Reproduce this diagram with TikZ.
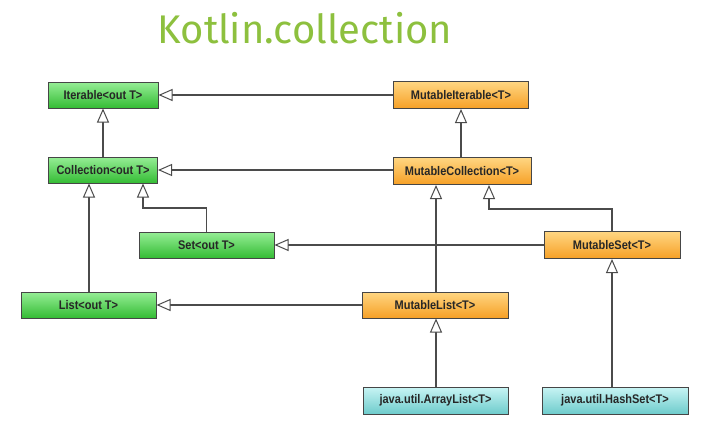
\documentclass[tikz,border=0pt]{standalone}
\usepackage{fontspec}
\usetikzlibrary{arrows.meta,shadings}
\newfontfamily\boxfont[FakeStretch=0.88]{Liberation Sans}
\newfontfamily\titlefont{Fira Sans}
\definecolor{titlegreen}{RGB}{141,192,62}
\definecolor{gtop}{RGB}{150,238,150}
\definecolor{gbot}{RGB}{52,188,52}
\definecolor{otop}{RGB}{255,214,130}
\definecolor{obot}{RGB}{246,160,38}
\definecolor{ctop}{RGB}{200,244,244}
\definecolor{cbot}{RGB}{110,204,204}
\definecolor{edgec}{RGB}{70,70,70}
\definecolor{linec}{RGB}{75,75,75}
\tikzset{
  cls/.style={draw=edgec, line width=1pt, minimum height=26pt, inner sep=0pt,
    font=\boxfont\bfseries\fontsize{12.5}{14}\selectfont, text=black!85},
  gbox/.style={cls, top color=gtop, bottom color=gbot},
  obox/.style={cls, top color=otop, bottom color=obot},
  cbox/.style={cls, top color=ctop, bottom color=cbot},
  inh/.style={draw=linec, line width=1.5pt,
    -{Triangle[open, length=14pt, width=12pt, fill=white, line width=1pt]}},
}
\begin{document}
\begin{tikzpicture}[x=1pt, y=-1pt]
\useasboundingbox (0,0) rectangle (703,428);
\node[text=titlegreen, font=\titlefont\fontsize{40}{46}\selectfont, anchor=base] (title) at (305,44) {Kotlin.collection};

\node[gbox, minimum width=110pt] (iter) at (103,95) {Iterable<out T>};
\node[obox, minimum width=135pt, minimum height=27pt] (miter) at (461,95) {MutableIterable<T>};
\node[gbox, minimum width=109pt] (coll) at (103,170) {Collection<out T>};
\node[obox, minimum width=138pt, minimum height=27pt] (mcoll) at (462,171) {MutableCollection<T>};
\node[gbox, minimum width=135pt] (set) at (206.5,245) {Set<out T>};
\node[obox, minimum width=136pt, minimum height=27pt] (mset) at (612,245) {MutableSet<T>};
\node[gbox, minimum width=135pt] (list) at (88.5,305) {List<out T>};
\node[obox, minimum width=146pt] (mlist) at (435,305) {MutableList<T>};
\node[cbox, minimum width=145pt, minimum height=27pt] (alist) at (435.5,400.5) {java.util.ArrayList<T>};
\node[cbox, minimum width=146pt, minimum height=27pt] (hset) at (615,400.5) {java.util.HashSet<T>};

\coordinate (c1) at (143,208);
\coordinate (c2) at (489,209);
\coordinate (c3) at (436,0);
\coordinate (c4) at (89,0);
\coordinate (c5) at (612,0);

\draw[inh] (miter.west) -- (iter.east |- miter.west);
\draw[inh] (coll.north) -- (iter.south);
\draw[inh] (mcoll.north -| miter.south) -- (miter.south);
\draw[inh] (mcoll.west |- coll.east) -- (coll.east);
\draw[inh] (set.north) -- (set.north |- c1) -- (c1) -- (c1 |- coll.south);
\draw[inh] (mset.north) -- (mset.north |- c2) -- (c2) -- (c2 |- mcoll.south);
\draw[inh] (mset.west |- set.east) -- (set.east);
\draw[inh] (c4 |- list.north) -- (c4 |- coll.south);
\draw[inh] (c3 |- mlist.north) -- (c3 |- mcoll.south);
\draw[inh] (mlist.west) -- (list.east);
\draw[inh] (c3 |- alist.north) -- (c3 |- mlist.south);
\draw[inh] (c5 |- hset.north) -- (c5 |- mset.south);
\end{tikzpicture}
\end{document}
